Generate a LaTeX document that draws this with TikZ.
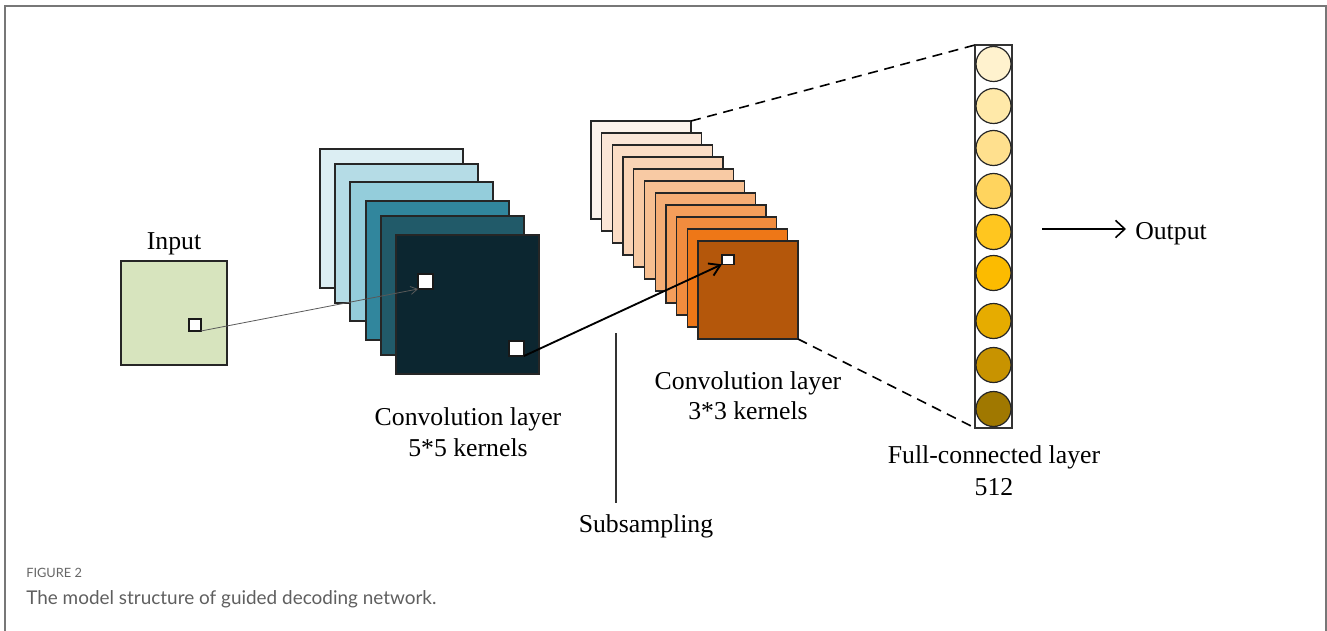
\documentclass[tikz,border=0pt]{standalone}
\usepackage{fontspec}
\setmainfont{Liberation Serif}
\newfontfamily\capfont{Lato}
\usetikzlibrary{arrows.meta}

% input map
\definecolor{inputgreen}{HTML}{D7E4BE}
% first convolution stack
\definecolor{ta}{HTML}{DCEEF3}
\definecolor{tb}{HTML}{B5DCE6}
\definecolor{tc}{HTML}{94CDDB}
\definecolor{td}{HTML}{31869D}
\definecolor{te}{HTML}{215A69}
\definecolor{tf}{HTML}{0C2630}
% second convolution stack
\definecolor{oa}{HTML}{FDF3EB}
\definecolor{ob}{HTML}{FBE6D7}
\definecolor{oc}{HTML}{FBDDC6}
\definecolor{od}{HTML}{F9D3B5}
\definecolor{oe}{HTML}{F8CAA4}
\definecolor{of}{HTML}{F7BF91}
\definecolor{og}{HTML}{F5AD75}
\definecolor{oh}{HTML}{F49E5B}
\definecolor{oi}{HTML}{F18C3E}
\definecolor{oj}{HTML}{EE7717}
\definecolor{ok}{HTML}{B4570B}
% fully connected units
\definecolor{ya}{HTML}{FFF2CE}
\definecolor{yb}{HTML}{FFE9A9}
\definecolor{yc}{HTML}{FFE08E}
\definecolor{yd}{HTML}{FFD45E}
\definecolor{ye}{HTML}{FFC61F}
\definecolor{yf}{HTML}{FCBB00}
\definecolor{yg}{HTML}{E6AC00}
\definecolor{yh}{HTML}{C89300}
\definecolor{yi}{HTML}{A07800}
\definecolor{framegray}{HTML}{777777}
\definecolor{capgray}{HTML}{5F5F5F}
\definecolor{headgray}{HTML}{666666}

\tikzset{
  sheet/.style={draw=black!85, line width=1pt, inner sep=0pt, outer sep=0pt, anchor=north west},
  cell/.style={draw=black!90, fill=white, line width=1pt, inner sep=0pt, outer sep=0pt, anchor=north west},
  unit/.style={circle, draw=black!85, line width=0.9pt, inner sep=0pt, minimum size=26.25pt},
  label/.style={inner sep=0pt, anchor=base, font=\fontsize{19.3pt}{23pt}\selectfont},
  linkdash/.style={line width=1.2pt, dash pattern=on 7.5pt off 5pt},
}

\begin{document}
\begin{tikzpicture}[x=0.75pt, y=-0.75pt]
\useasboundingbox (0,0) rectangle (1327,631);

% outer frame
\draw[framegray, line width=1.5pt] (5,631) -- (5,6) -- (1326,6) -- (1326,631);

% input
\node[sheet, fill=inputgreen, minimum width=79.5pt, minimum height=78pt] (inmap) at (121,261) {};
\node[cell, minimum width=9pt, minimum height=9pt] (inpatch) at (189,319) {};
\node[label] (inlabel) at (174,249) {Input};

% first convolution layer, 5*5 kernels
\foreach \c/\x/\y [count=\i] in {ta/320/149, tb/335/164, tc/350/182, td/366/201, te/381/216, tf/396/235}
  \node[sheet, fill=\c, minimum width=107.25pt, minimum height=104.25pt] (t\i) at (\x,\y) {};
\node[cell, minimum width=11.25pt, minimum height=11.25pt] (cpatchA) at (418,274) {};
\node[cell, minimum width=11.25pt, minimum height=11.25pt] (cpatchB) at (509,341) {};
\node[label] (convAa) at (468,425) {Convolution layer};
\node[label] (convAb) at (468,456) {5*5 kernels};

% second convolution layer, 3*3 kernels
\foreach \c [count=\i from 0] in {oa,ob,oc,od,oe,of,og,oh,oi,oj,ok}
  \node[sheet, fill=\c, minimum width=75pt, minimum height=73.5pt] (o\i) at ({591+10.7*\i},{121+12*\i}) {};
\node[cell, minimum width=9pt, minimum height=7pt] (opatch) at (722,255) {};
\node[label] (convBa) at (748,389) {Convolution layer};
\node[label] (convBb) at (748,419) {3*3 kernels};

% subsampling marker
\coordinate (subtop) at (616,333);
\coordinate (subbot) at (616,503);
\draw[black!80, line width=1pt] (subtop) -- (subbot);
\node[label] (sublabel) at (646,532) {Subsampling};

% fully connected layer
\node[draw=black!80, line width=0.9pt, inner sep=0pt, outer sep=0pt, anchor=north west,
      minimum width=27.75pt, minimum height=287.25pt] (fc) at (975,45) {};
\foreach \c/\y [count=\i] in {ya/64, yb/106, yc/148, yd/191, ye/232, yf/273, yg/321, yh/365, yi/409}
  \node[unit, fill=\c] (u\i) at (993.5,\y) {};
\node[label] (fcA) at (994,463) {Full-connected layer};
\node[label] (fcB) at (994,495) {512};

% output
\coordinate (outstart) at (1042,229);
\node[label, anchor=base west] (outlabel) at (1135,239) {Output};
\draw[line width=1.2pt, -{Straight Barb[length=7pt, width=13pt]}] (outstart) -- (1126,229);

% connectors
\draw[black!65, line width=0.6pt, -{Straight Barb[length=5pt, width=6pt]}] (inpatch.south east) -- (cpatchA.south west);
\draw[line width=1.4pt, -{Straight Barb[length=8pt, width=10pt]}] (cpatchB.south east) -- (opatch.south west);
\draw[linkdash] (o0.north east) -- (fc.north west);
\draw[linkdash] (o10.south east) -- (fc.south west);

% caption
\node[inner sep=0pt, anchor=base west, text=headgray, font=\capfont\fontsize{9.6pt}{11pt}\selectfont] (capA) at (26,577) {FIGURE 2};
\node[inner sep=0pt, anchor=base west, text=capgray, font=\capfont\fontsize{14.2pt}{17pt}\selectfont] (capB) at (26,604) {The model structure of guided decoding network.};
\end{tikzpicture}
\end{document}
